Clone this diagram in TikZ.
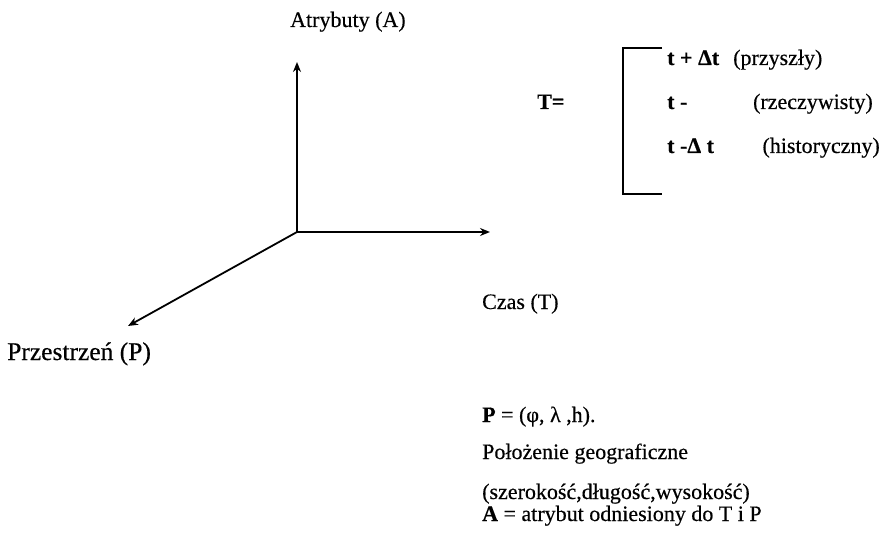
\documentclass[tikz,border=0pt]{standalone}
\usepackage{fontspec}
\setmainfont{Liberation Serif}
\usetikzlibrary{arrows.meta}
\begin{document}
\begin{tikzpicture}[x=1pt,y=-1pt,
  txt/.style={font=\fontsize{22}{25}\selectfont\addfontfeature{FakeBold=0.4}},
  lbl/.style={txt, inner sep=0pt, anchor=base west},
  lblr/.style={txt, inner sep=0pt, anchor=base east},
  axis/.style={line width=1.8pt, -{Stealth[length=10pt,width=8pt]}},
  brk/.style={line width=2.2pt}]
\useasboundingbox (0,0) rectangle (887,535);
\fill[white] (0,0) rectangle (887,535);
% axes
\coordinate (O) at (297,232);
\coordinate (Atop) at (297,62);
\coordinate (Tend) at (490,232);
\coordinate (Pend) at (128,326);
\draw[axis] (O) -- (Atop);
\draw[axis] (O) -- (Tend);
\draw[axis] (O) -- (Pend);
% axis labels
\node[lbl] (la) at (290,27) {Atrybuty (A)};
\node[lbl, font=\fontsize{25.5}{28}\selectfont\addfontfeature{FakeBold=0.4}] (lp) at (7,360) {Przestrzeń (P)};
\node[lbl] (lt) at (482,309) {Czas (T)};
% T= bracket
\node[lbl] (teq) at (537,109) {\bfseries T=};
\coordinate (b1) at (662,48);
\coordinate (b2) at (623,48);
\coordinate (b3) at (623,194);
\coordinate (b4) at (662,194);
\draw[brk] (b1) -- (b2) -- (b3) -- (b4);
\node[lbl] (t1) at (667,65) {\bfseries t + Δt};
\node[lbl] (t1b) at (733,65) {(przyszły)};
\node[lbl] (t2) at (667,109) {\bfseries t -};
\node[lblr] (t2b) at (873,109) {(rzeczywisty)};
\node[lbl] (t3) at (667,153) {\bfseries t -Δ t};
\node[lblr] (t3b) at (880,153) {(historyczny)};
% bottom text
\node[lbl] (p1) at (482,422) {\textbf{P} = (φ, λ ,h).};
\node[lbl] (p2) at (482,459) {Położenie geograficzne};
\node[lbl] (p3) at (482,499) {(szerokość,długość,wysokość)};
\node[lbl] (p4) at (482,521) {\textbf{A} = atrybut odniesiony do T i P};
\end{tikzpicture}
\end{document}
